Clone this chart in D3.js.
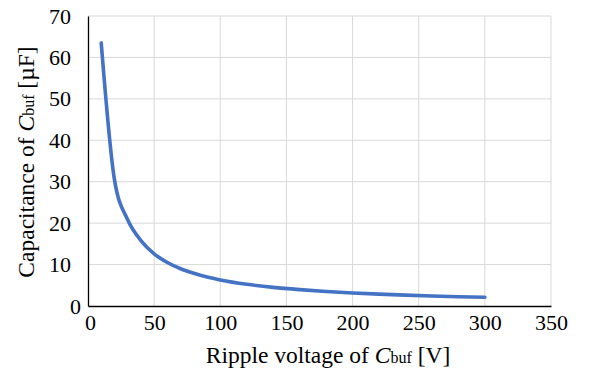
<!DOCTYPE html>
<html lang="en">
  <head>
    <meta charset="utf-8">
    <title>Capacitance vs ripple voltage</title>
    <script src="https://d3js.org/d3.v7.min.js"></script>
    <style>
      body { margin: 0; background: #fff; }
      svg text { font-family: "Liberation Serif", "Times New Roman", serif; fill: #000; }
    </style>
  </head>
  <body>
    <svg width="595" height="374"></svg>
    <script type="text/javascript">
      // values
      var rippleV = [10, 20, 30, 40, 50, 60, 70, 80, 90, 100, 120, 140, 160, 180, 200, 220, 240, 260, 280, 300];
      var capUF   = [63.5, 30.5, 20.8, 15.8, 12.6, 10.5, 9.0, 7.9, 7.0, 6.3, 5.25, 4.5, 3.95, 3.5, 3.15, 2.87, 2.63, 2.42, 2.25, 2.1];
      var xTicks = [0, 50, 100, 150, 200, 250, 300, 350];
      var yTicks = [0, 10, 20, 30, 40, 50, 60, 70];

      var svg = d3.select("svg");
      var plotL = 88, plotR = 551, plotT = 16, plotB = 306;

      var x = d3.scaleLinear().domain([0, 350]).range([plotL, plotR]);
      var y = d3.scaleLinear().domain([0, 70]).range([plotB, plotT]);

      // gridlines
      svg.append("g").selectAll("line")
        .data(yTicks.slice(1))
        .enter().append("line")
        .attr("x1", plotL).attr("x2", plotR)
        .attr("y1", function(d) { return y(d); })
        .attr("y2", function(d) { return y(d); })
        .attr("stroke", "#d9d9d9").attr("stroke-width", 1);

      svg.append("g").selectAll("line")
        .data(xTicks.slice(1))
        .enter().append("line")
        .attr("y1", plotT).attr("y2", plotB)
        .attr("x1", function(d) { return x(d); })
        .attr("x2", function(d) { return x(d); })
        .attr("stroke", "#d9d9d9").attr("stroke-width", 1);

      // axes
      var xAxis = svg.append("g")
        .attr("transform", "translate(0," + plotB + ")")
        .call(d3.axisBottom(x).tickValues(xTicks).tickSize(0).tickPadding(8));
      var yAxis = svg.append("g")
        .attr("transform", "translate(" + plotL + ",0)")
        .call(d3.axisLeft(y).tickValues(yTicks).tickSize(0).tickPadding(17));

      [xAxis, yAxis].forEach(function(a) {
        a.attr("font-family", null).attr("font-size", null);
        a.select(".domain").attr("stroke", "#000").attr("stroke-width", 1.3);
        a.selectAll("text").style("font-size", "22px");
      });
      // excel places the zero label a bit off
      yAxis.selectAll(".tick text").filter(function(d) { return d === 0; }).attr("dx", 10);
      xAxis.selectAll(".tick text").filter(function(d) { return d === 0; }).attr("dx", 2);

      // curve
      var line = d3.line()
        .x(function(d, i) { return x(rippleV[i]); })
        .y(function(d) { return y(d); })
        .curve(d3.curveMonotoneX);

      svg.append("path")
        .datum(capUF)
        .attr("d", line)
        .attr("fill", "none")
        .attr("stroke", "#4472c4")
        .attr("stroke-width", 3.6)
        .attr("stroke-linecap", "round");

      // axis titles
      var xt = svg.append("text")
        .attr("x", 328).attr("y", 363)
        .attr("text-anchor", "middle")
        .style("font-size", "23.5px");
      xt.append("tspan").text("Ripple voltage of ");
      xt.append("tspan").style("font-style", "italic").text("C");
      xt.append("tspan").style("font-size", "16px").text("buf");
      xt.append("tspan").text(" [V]");

      var yt = svg.append("text")
        .attr("transform", "translate(34,162) rotate(-90)")
        .attr("text-anchor", "middle")
        .style("font-size", "23.5px");
      yt.append("tspan").text("Capacitance of ");
      yt.append("tspan").style("font-style", "italic").text("C");
      yt.append("tspan").style("font-size", "16px").text("buf");
      yt.append("tspan").text(" [\u00b5F]");
    </script>
  </body>
</html>
